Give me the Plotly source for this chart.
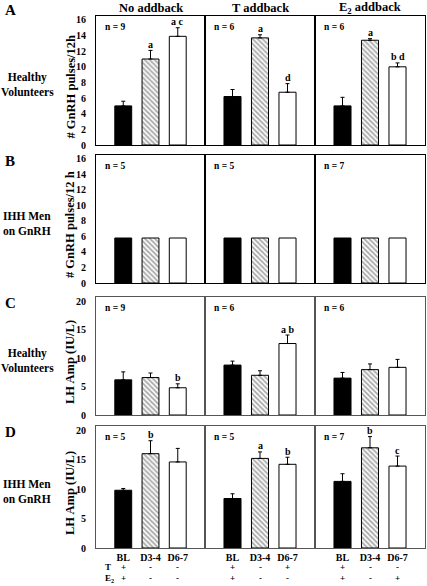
import plotly.graph_objects as go
from plotly.subplots import make_subplots

# ---------------- data ----------------
categories = ["BL", "D3-4", "D6-7"]
conditions = ["No addback", "T addback", "E<sub>2</sub> addback"]
t_row = [["+", "-", "-"], ["+", "-", "+"], ["+", "-", "-"]]
e2_row = [["+", "-", "-"], ["+", "-", "-"], ["+", "-", "+"]]

# Panel A: healthy volunteers, GnRH pulses/12h
a_means = [[5.0, 11.0, 13.9], [6.2, 13.7, 6.75], [5.0, 13.4, 10.0]]
a_errs = [[0.6, 1.1, 1.1], [0.9, 0.4, 1.1], [1.1, 0.2, 0.5]]
a_n = ["n = 9", "n = 6", "n = 6"]
a_letters = [["", "a", "a c"], ["", "a", "d"], ["", "a", "b d"]]

# Panel B: IHH men on GnRH, GnRH pulses/12 h
b_means = [[5.8, 5.8, 5.8], [5.8, 5.8, 5.8], [5.8, 5.8, 5.8]]
b_errs = [[0, 0, 0], [0, 0, 0], [0, 0, 0]]
b_n = ["n = 5", "n = 5", "n = 7"]
b_letters = [["", "", ""], ["", "", ""], ["", "", ""]]

# Panel C: healthy volunteers, LH amplitude
c_means = [[6.2, 6.6, 4.8], [8.8, 7.0, 12.6], [6.5, 8.0, 8.4]]
c_errs = [[1.4, 0.8, 0.7], [0.7, 0.8, 1.5], [1.0, 1.0, 1.4]]
c_n = ["n = 9", "n = 6", "n = 6"]
c_letters = [["", "", "b"], ["", "", "a b"], ["", "", ""]]

# Panel D: IHH men on GnRH, LH amplitude
d_means = [[9.8, 16.0, 14.6], [8.4, 15.2, 14.2], [11.3, 17.0, 13.9]]
d_errs = [[0.3, 2.2, 2.3], [0.8, 1.1, 1.2], [1.3, 1.9, 1.7]]
d_n = ["n = 5", "n = 5", "n = 7"]
d_letters = [["", "b", ""], ["", "a", "b"], ["", "b", "c"]]

panel_letters = ["A", "B", "C", "D"]
group_labels = ["Healthy<br>Volunteers", "IHH Men<br>on GnRH", "Healthy<br>Volunteers", "IHH Men<br>on GnRH"]
y_titles = ["# GnRH pulses/12h", "# GnRH pulses/12 h", "LH Amp (IU/L)", "LH Amp (IU/L)"]
y_ranges = [16.5, 16.5, 20.8, 20.7]
y_dticks = [2, 2, 5, 5]

# ---------------- layout geometry ----------------
W, H = 427, 586
L, R, T, B = 96, 2, 16, 38
PW, PH = W - L - R, H - T - B
row_px = [(16, 145), (155, 283), (297, 415), (426, 548)]
col_px = [(96, 205), (205, 315), (315, 425)]
frame_colors = ["#000000", "#000000", "#555555", "#555555"]
T_ROW_Y, E2_ROW_Y = 567, 578


def px_x(px):
    return (px - L) / PW


def px_y(py):
    return (H - B - py) / PH


FONT = "Liberation Serif"

fig = make_subplots(rows=4, cols=3, horizontal_spacing=0, vertical_spacing=0)

panels = [
    (a_means, a_errs, a_n, a_letters),
    (b_means, b_errs, b_n, b_letters),
    (c_means, c_errs, c_n, c_letters),
    (d_means, d_errs, d_n, d_letters),
]


def bfont(size):
    return dict(family=FONT, size=size, color="black", weight="bold")


annotations = []
for r, (means, errs, ns, letters) in enumerate(panels):
    for c in range(3):
        idx = r * 3 + c + 1
        sfx = "" if idx == 1 else str(idx)
        has_err = any(e > 0 for e in errs[c])
        fig.add_trace(
            go.Bar(
                x=categories,
                y=means[c],
                width=0.62,
                marker=dict(
                    color=["black", "white", "white"],
                    line=dict(color="black", width=1),
                    pattern=dict(shape=["", "\\", ""], fgcolor="black",
                                 bgcolor="white", size=3.5, solidity=0.45),
                ),
                error_y=dict(type="data", symmetric=False, array=errs[c],
                             arrayminus=[0, 0, 0], color="black",
                             thickness=1, width=2, visible=has_err),
                showlegend=False,
                hoverinfo="skip",
            ),
            row=r + 1, col=c + 1,
        )
        y0, y1 = row_px[r]
        x0, x1 = col_px[c]
        fig.layout["xaxis" + sfx].update(
            domain=[px_x(x0), px_x(x1)],
            type="category",
            range=[-1, 3],
            showline=True, mirror=True, linecolor=frame_colors[r], linewidth=1,
            showgrid=False, zeroline=False, ticks="",
            showticklabels=(r == 3),
            tickfont=bfont(10),
            ticklabelstandoff=0,
            fixedrange=True,
        )
        fig.layout["yaxis" + sfx].update(
            domain=[px_y(y1), px_y(y0)],
            range=[0, y_ranges[r]],
            dtick=y_dticks[r],
            showline=True, mirror=True, linecolor=frame_colors[r], linewidth=1,
            showgrid=False, zeroline=False, ticks="",
            showticklabels=(c == 0),
            tickfont=bfont(10),
            ticklabelstandoff=7,
            fixedrange=True,
        )
        # n label
        annotations.append(dict(
            xref="x" + sfx + " domain", yref="paper",
            x=0.06, y=px_y(y0 + 11), xanchor="left", yanchor="middle",
            text=ns[c], showarrow=False, font=bfont(9.5),
        ))
        # significance letters
        for k, cat in enumerate(categories):
            if letters[c][k]:
                annotations.append(dict(
                    xref="x" + sfx, yref="y" + sfx,
                    x=cat, y=means[c][k] + errs[c][k],
                    yshift=6, xanchor="center", yanchor="middle",
                    text=letters[c][k], showarrow=False, font=bfont(10),
                    borderpad=0,
                ))
        # T / E2 rows under bottom panel
        if r == 3:
            for k, cat in enumerate(categories):
                annotations.append(dict(
                    xref="x" + sfx, yref="paper", x=cat, y=px_y(T_ROW_Y),
                    xanchor="center", yanchor="middle", text=t_row[c][k],
                    showarrow=False, font=bfont(9), borderpad=0,
                ))
                annotations.append(dict(
                    xref="x" + sfx, yref="paper", x=cat, y=px_y(E2_ROW_Y),
                    xanchor="center", yanchor="middle", text=e2_row[c][k],
                    showarrow=False, font=bfont(9), borderpad=0,
                ))
        # condition titles
        if r == 0:
            annotations.append(dict(
                xref="paper", yref="paper", x=px_x((x0 + x1) / 2), y=px_y(8.5),
                xanchor="center", yanchor="middle", text=conditions[c],
                showarrow=False, font=bfont(12.5), borderpad=0,
            ))

    y0, y1 = row_px[r]
    mid = (y0 + y1) / 2
    annotations.append(dict(
        xref="paper", yref="paper", x=px_x(10), y=px_y(y0 - 6 if r == 0 else y0 + 6),
        xanchor="center", yanchor="middle", text=panel_letters[r], showarrow=False,
        font=bfont(15),
    ))
    annotations.append(dict(
        xref="paper", yref="paper", x=px_x(27), y=px_y(mid + 4),
        xanchor="center", yanchor="middle", text=group_labels[r], showarrow=False,
        align="center", font=bfont(11.5),
    ))
    annotations.append(dict(
        xref="paper", yref="paper", x=px_x(70), y=px_y(mid + 6),
        xanchor="center", yanchor="middle", text=y_titles[r], showarrow=False,
        textangle=-90, font=bfont(12.5),
    ))

# row labels for treatment table
annotations.append(dict(
    xref="paper", yref="paper", x=px_x(104), y=px_y(T_ROW_Y), xanchor="left",
    yanchor="middle", text="T", showarrow=False, font=bfont(9), borderpad=0,
))
annotations.append(dict(
    xref="paper", yref="paper", x=px_x(104), y=px_y(E2_ROW_Y), xanchor="left",
    yanchor="middle", text="E<sub>2</sub>", showarrow=False, font=bfont(9),
    borderpad=0,
))

fig.update_layout(
    width=W, height=H,
    margin=dict(l=L, r=R, t=T, b=B, pad=0),
    paper_bgcolor="white", plot_bgcolor="white",
    font=dict(family=FONT, color="black", weight="bold"),
    annotations=annotations,
    bargap=0,
    hovermode=False,
)

fig.write_html(
    "out.html",
    config={"displayModeBar": False, "staticPlot": True},
    post_script="document.body.style.margin='0';document.body.style.padding='0';",
)
